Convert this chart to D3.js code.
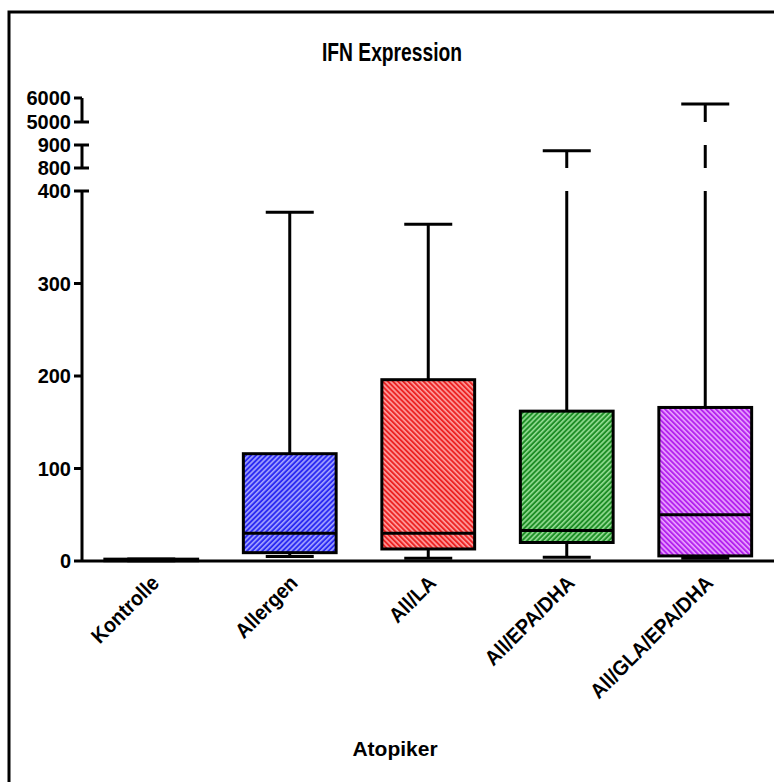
<!DOCTYPE html>
<html>
<head>
<meta charset="utf-8">
<script src="https://cdn.jsdelivr.net/npm/d3@7/dist/d3.min.js"></script>
<style>
  html, body { margin: 0; padding: 0; background: #fff; }
  svg { display: block; font-family: "Liberation Sans", Arial, sans-serif; }
</style>
</head>
<body>
<svg id="chart" width="774" height="782"></svg>
<script>
// Box-plot summaries per group (IFN expression)
const categories = ["Kontrolle", "Allergen", "All/LA", "All/EPA/DHA", "All/GLA/EPA/DHA"];
const whiskerLow = [0.3, 5, 3, 4, 3];
const quartile1 = [0.3, 9, 13, 20, 5.5];
const medians = [1, 30, 30, 33, 50];
const quartile3 = [2, 116, 196, 162, 166];
const whiskerHigh = [2.2, 377, 364, 875, 5750];

// Broken y axis: three segments
const segmentDomains = [[0, 400], [800, 900], [5000, 6000]];
const segmentTicks = [[0, 100, 200, 300, 400], [800, 900], [5000, 6000]];

const fills = [
  { base: "#222", stripe: "#222", dir: 1 },
  { base: "#2b2bf2", stripe: "#a4a4ff", dir: 1 },
  { base: "#ec2424", stripe: "#ffa0a0", dir: -1 },
  { base: "#1e8e26", stripe: "#94dc94", dir: 1 },
  { base: "#b424ee", stripe: "#eaa4ff", dir: -1 }
];

const svg = d3.select("#chart");

// outer frame
svg.append("rect")
  .attr("x", 9).attr("y", 12).attr("width", 900).attr("height", 900)
  .attr("fill", "none").attr("stroke", "#000").attr("stroke-width", 3);

const axisX = 82;
const plotRight = 774.5;
const segRanges = [[561, 191], [168, 145], [122, 98]];
const yScales = segmentDomains.map((d, i) => d3.scaleLinear().domain(d).range(segRanges[i]));

const x = d3.scaleBand().domain(categories).range([axisX, plotRight]).paddingInner(0.33).paddingOuter(0.165);

// hatch patterns
const defs = svg.append("defs");
const period = 3.6;
fills.forEach((f, i) => {
  const p = defs.append("pattern")
    .attr("id", "hatch" + i)
    .attr("patternUnits", "userSpaceOnUse")
    .attr("width", period).attr("height", period)
    .attr("patternTransform", `rotate(${f.dir > 0 ? -45 : 45})`);
  p.append("rect").attr("width", period).attr("height", period).attr("fill", f.base);
  p.append("rect").attr("x", 0).attr("y", 0).attr("width", period).attr("height", period * 0.45).attr("fill", f.stripe);
});

// title (condensed bold)
svg.append("text")
  .attr("x", 392).attr("y", 61)
  .attr("text-anchor", "middle")
  .attr("font-size", 26).attr("font-weight", "bold")
  .attr("textLength", 140).attr("lengthAdjust", "spacingAndGlyphs")
  .text("IFN Expression");

// x axis title
svg.append("text")
  .attr("x", 395).attr("y", 756)
  .attr("text-anchor", "middle")
  .attr("font-size", 21).attr("font-weight", "bold")
  .text("Atopiker");

const axisG = svg.append("g");
const stroke = 3;

// y axis segments with ticks and end caps
yScales.forEach((ys, i) => {
  const [r0, r1] = ys.range();
  axisG.append("line")
    .attr("x1", axisX).attr("x2", axisX)
    .attr("y1", r0).attr("y2", r1)
    .attr("stroke", "#000").attr("stroke-width", stroke);
  segmentTicks[i].forEach(t => {
    const yy = ys(t);
    const isTopOfAll = (i === yScales.length - 1 && t === segmentDomains[i][1]);
    const isZero = (i === 0 && t === 0);
    const isEnd = (t === segmentDomains[i][0] || t === segmentDomains[i][1]);
    const right = (isEnd && !isTopOfAll && !isZero) ? axisX + 7 : axisX;
    axisG.append("line")
      .attr("x1", axisX - 8).attr("x2", right)
      .attr("y1", yy).attr("y2", yy)
      .attr("stroke", "#000").attr("stroke-width", stroke);
    axisG.append("text")
      .attr("x", axisX - 11).attr("y", yy)
      .attr("dy", "0.36em")
      .attr("text-anchor", "end")
      .attr("font-size", 20).attr("font-weight", "bold")
      .text(t);
  });
});

// x axis
axisG.append("line")
  .attr("x1", axisX).attr("x2", plotRight)
  .attr("y1", yScales[0](0)).attr("y2", yScales[0](0))
  .attr("stroke", "#000").attr("stroke-width", stroke);

// x tick labels, rotated and slightly condensed
categories.forEach(c => {
  const cx = x(c) + x.bandwidth() / 2;
  const t = svg.append("text")
    .attr("transform", `translate(${cx + 4},${579}) rotate(-45)`)
    .attr("text-anchor", "end")
    .attr("dy", "0.35em")
    .attr("font-size", 21).attr("font-weight", "bold")
    .text(c);
  const len = t.node().getComputedTextLength();
  t.attr("textLength", len * 0.93).attr("lengthAdjust", "spacingAndGlyphs");
});

// draws a vertical whisker line between two values across the broken axis
function whiskerSegments(g, cx, v0, v1) {
  const lo = Math.min(v0, v1), hi = Math.max(v0, v1);
  yScales.forEach(ys => {
    const [d0, d1] = ys.domain();
    const a = Math.max(lo, d0), b = Math.min(hi, d1);
    if (b > a) {
      g.append("line")
        .attr("x1", cx).attr("x2", cx)
        .attr("y1", ys(a)).attr("y2", ys(b))
        .attr("stroke", "#000").attr("stroke-width", stroke);
    }
  });
}
function yOf(v) {
  for (const ys of yScales) {
    const [d0, d1] = ys.domain();
    if (v >= d0 && v <= d1) return ys(v);
  }
  return yScales[0](v);
}

const boxes = svg.append("g");
categories.forEach((c, i) => {
  const g = boxes.append("g");
  const x0 = x(c), w = x.bandwidth(), cx = x0 + w / 2;
  const capW = 48;
  // whiskers
  whiskerSegments(g, cx, quartile3[i], whiskerHigh[i]);
  whiskerSegments(g, cx, whiskerLow[i], quartile1[i]);
  [whiskerLow[i], whiskerHigh[i]].forEach(v => {
    g.append("line")
      .attr("x1", cx - capW / 2).attr("x2", cx + capW / 2)
      .attr("y1", yOf(v)).attr("y2", yOf(v))
      .attr("stroke", "#000").attr("stroke-width", stroke);
  });
  // box
  const yTop = yScales[0](quartile3[i]), yBot = yScales[0](quartile1[i]);
  g.append("rect")
    .attr("x", x0).attr("y", yTop)
    .attr("width", w).attr("height", Math.max(0.5, yBot - yTop))
    .attr("fill", `url(#hatch${i})`)
    .attr("stroke", "#000").attr("stroke-width", stroke);
  // median
  g.append("line")
    .attr("x1", x0).attr("x2", x0 + w)
    .attr("y1", yScales[0](medians[i])).attr("y2", yScales[0](medians[i]))
    .attr("stroke", "#000").attr("stroke-width", stroke);
});
</script>
</body>
</html>
